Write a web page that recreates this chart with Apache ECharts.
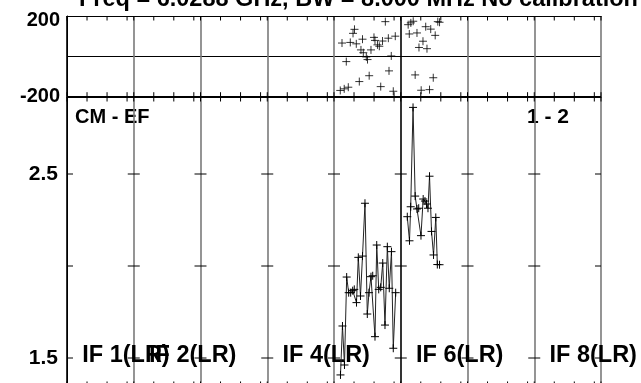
<!DOCTYPE html>
<html><head><meta charset="utf-8">
<script src="https://cdn.jsdelivr.net/npm/echarts@6/dist/echarts.min.js"></script>
<style>html,body{margin:0;padding:0;background:#fff}#c{width:641px;height:383px}</style>
</head><body><div id="c"></div>
<script>
// x axis: one unit per IF segment (0..8)
const ampX_a = [4.097,4.127,4.157,4.190,4.220,4.250,4.280,4.304,4.337,4.364,4.397,4.427,4.464,4.499,4.524,4.554,4.580,4.614,4.640,4.670,4.700,4.730,4.764,4.799,4.828,4.861,4.888,4.924];
const ampY_a = [1.408,1.674,1.462,1.940,1.855,1.855,1.866,1.873,1.801,2.047,1.837,2.054,2.341,1.739,1.855,1.942,1.947,1.616,2.114,1.873,1.884,2.016,1.679,2.105,1.879,2.078,1.553,1.855];
const ampX_b = [5.098,5.131,5.149,5.184,5.216,5.243,5.269,5.303,5.336,5.363,5.386,5.408,5.431,5.461,5.491,5.525,5.548,5.581];
const ampY_b = [2.268,2.137,2.322,2.862,2.380,2.310,2.314,2.165,2.364,2.353,2.337,2.314,2.488,2.188,2.060,2.264,2.008,2.007];
const phsX_a = [4.094,4.120,4.153,4.184,4.214,4.244,4.285,4.307,4.334,4.379,4.404,4.427,4.439,4.484,4.502,4.527,4.554,4.599,4.614,4.651,4.679,4.700,4.727,4.769,4.814,4.824,4.858,4.888,4.918];
const phsY_a = [-169,66,-161,-26,-153,69,114,134,62,-125,32,85,18,-3,-16,-96,32,94,79,57,50,-150,76,172,90,-72,2,-173,100];
const phsX_b = [5.111,5.128,5.151,5.187,5.216,5.243,5.273,5.306,5.333,5.374,5.393,5.431,5.449,5.487,5.516,5.555,5.581];
const phsY_b = [157,111,166,174,-92,116,44,-168,75,147,38,-165,135,-106,104,172,169];

const ifLabels = ['IF 1(LR)','IF 2(LR)','IF 4(LR)','IF 6(LR)','IF 8(LR)'];
const ifLabelSeg = [0,1,3,5,7];
const segBounds = [0,1,2,3,4,5,6,7,8];
const segMinor = [0.3,0.6,0.9];
const ampTicks = [1.5,2.0,2.5];
const ampShown = ['1.5','2.5'];
const phaseShown = ['200','-200'];
const AMP_MIN = 1.0, AMP_MAX = 2.9185, AMP_EDGE = 1.348;
const titleText = 'Freq = 6.0288 GHz, BW = 8.000 MHz No calibration applied';
const baselineText = 'CM - EF';
const polText = '1 - 2';

const FONT = 'Liberation Sans, Arial, sans-serif';
const PLUS = 'path://M0,4L8,4M4,0L4,8';

const tickPos = [];
segBounds.forEach(b => { tickPos.push([b]); if (b < 8) segMinor.forEach(m => tickPos.push([b + m])); });
const crossData = [];
segBounds.forEach(b => ampTicks.forEach(t => crossData.push([b, t])));

const splitColors = ['#000','#7a7a7a','#7a7a7a','#7a7a7a','#7a7a7a','#000','#7a7a7a','#7a7a7a','#7a7a7a'];

function xAx(grid, pos) {
  return {type:'value', gridIndex:grid, position:pos, min:0, max:8, interval:1,
    axisLine:{show:true, onZero:false, lineStyle:{color:'#000', width:1}},
    axisTick:{show:false}, axisLabel:{show:false},
    splitLine:{show: pos === 'bottom', lineStyle:{color:splitColors, width:1.6}}};
}

const chart = echarts.init(document.getElementById('c'), null, {renderer:'canvas'});
chart.setOption({
  animation:false,
  backgroundColor:'#fff',
  grid:[{left:67, top:16, width:534, height:80.7, outerBoundsMode:'none', containLabel:false},
        {left:67, top:97, width:534, height:(AMP_MAX-AMP_MIN)*184, outerBoundsMode:'none', containLabel:false}],
  xAxis:[xAx(0,'bottom'), xAx(0,'top'), xAx(1,'bottom'), xAx(1,'top')],
  yAxis:[
    {type:'value', gridIndex:0, min:-200, max:200, interval:200,
     axisLine:{show:true, lineStyle:{color:'#000'}}, axisTick:{show:false},
     splitLine:{show:true, lineStyle:{color:'#000', width:1}},
     axisLabel:{margin:7, color:'#000', fontFamily:FONT, fontWeight:'bold', fontSize:20,
       formatter: v => v === 200 ? '{t|' + phaseShown[0] + '}' : (v === -200 ? phaseShown[1] : ''),
       rich:{t:{padding:[8,0,0,0], color:'#000', fontFamily:FONT, fontWeight:'bold', fontSize:20}}}},
    {type:'value', gridIndex:1, min:AMP_MIN, max:AMP_MAX, interval:0.5,
     axisLine:{show:true, lineStyle:{color:'#000'}}, axisTick:{show:false},
     splitLine:{show:false},
     axisLabel:{margin:9, color:'#000', fontFamily:FONT, fontWeight:'bold', fontSize:21, showMaxLabel:false,
       formatter: v => { const s = Number(v).toFixed(1); return ampShown.indexOf(s) >= 0 ? s : ''; }}}
  ],
  graphic:[
    {type:'text', left:79, top:-12, style:{text:titleText, font:'bold 23.5px ' + FONT, fill:'#000'}},
    {type:'text', left:75, top:107, style:{text:baselineText, font:'bold 20px ' + FONT, fill:'#000'}},
    {type:'text', left:527, top:107, style:{text:polText, font:'bold 21px ' + FONT, fill:'#000'}}
  ],
  series:[
    {type:'custom', xAxisIndex:0, yAxisIndex:0, data:tickPos, silent:true,
     renderItem:(p, api) => { const x = api.coord([api.value(0), 0])[0]; const c = p.coordSys;
       return {type:'group', children:[
         {type:'line', shape:{x1:x, y1:c.y, x2:x, y2:c.y+4.5}, style:{stroke:'#000', lineWidth:1}},
         {type:'line', shape:{x1:x, y1:c.y+c.height, x2:x, y2:c.y+c.height-4.5}, style:{stroke:'#000', lineWidth:1}}]}; }},
    {type:'custom', xAxisIndex:2, yAxisIndex:1, data:tickPos, silent:true,
     renderItem:(p, api) => { const x = api.coord([api.value(0), AMP_EDGE]); const c = p.coordSys;
       return {type:'group', children:[
         {type:'line', shape:{x1:x[0], y1:c.y, x2:x[0], y2:c.y+4.5}, style:{stroke:'#000', lineWidth:1}},
         {type:'line', shape:{x1:x[0], y1:x[1], x2:x[0], y2:x[1]-4.5}, style:{stroke:'#000', lineWidth:1}}]}; }},
    {type:'custom', xAxisIndex:2, yAxisIndex:1, data:crossData, silent:true, clip:true,
     renderItem:(p, api) => { const q = api.coord([api.value(0), api.value(1)]);
       return {type:'line', shape:{x1:q[0]-6, y1:q[1], x2:q[0]+6, y2:q[1]}, style:{stroke:'#000', lineWidth:1}}; }},
    {type:'scatter', xAxisIndex:0, yAxisIndex:0, symbol:PLUS, symbolSize:8, silent:true,
     itemStyle:{color:'rgba(0,0,0,0)', borderColor:'#000', borderWidth:1},
     data: phsX_a.map((x,i) => [x, phsY_a[i]]).concat(phsX_b.map((x,i) => [x, phsY_b[i]]))},
    {type:'line', xAxisIndex:2, yAxisIndex:1, symbol:PLUS, symbolSize:8, silent:true,
     lineStyle:{color:'#222', width:1}, itemStyle:{color:'rgba(0,0,0,0)', borderColor:'#000', borderWidth:1},
     data: ampX_a.map((x,i) => [x, ampY_a[i]])},
    {type:'line', xAxisIndex:2, yAxisIndex:1, symbol:PLUS, symbolSize:8, silent:true,
     lineStyle:{color:'#222', width:1}, itemStyle:{color:'rgba(0,0,0,0)', borderColor:'#000', borderWidth:1},
     data: ampX_b.map((x,i) => [x, ampY_b[i]])},
    {type:'custom', xAxisIndex:2, yAxisIndex:1, data:ifLabelSeg.map((s,i) => [s, 1.5, i]), silent:true,
     renderItem:(p, api) => { const q = api.coord([api.value(0) + 0.228, api.value(1)]);
       return {type:'text', x:q[0], y:q[1]-2, style:{text:ifLabels[api.value(2)], font:'bold 23.5px ' + FONT,
         fill:'#000', align:'left', verticalAlign:'middle'}}; }}
  ]
});
</script></body></html>
